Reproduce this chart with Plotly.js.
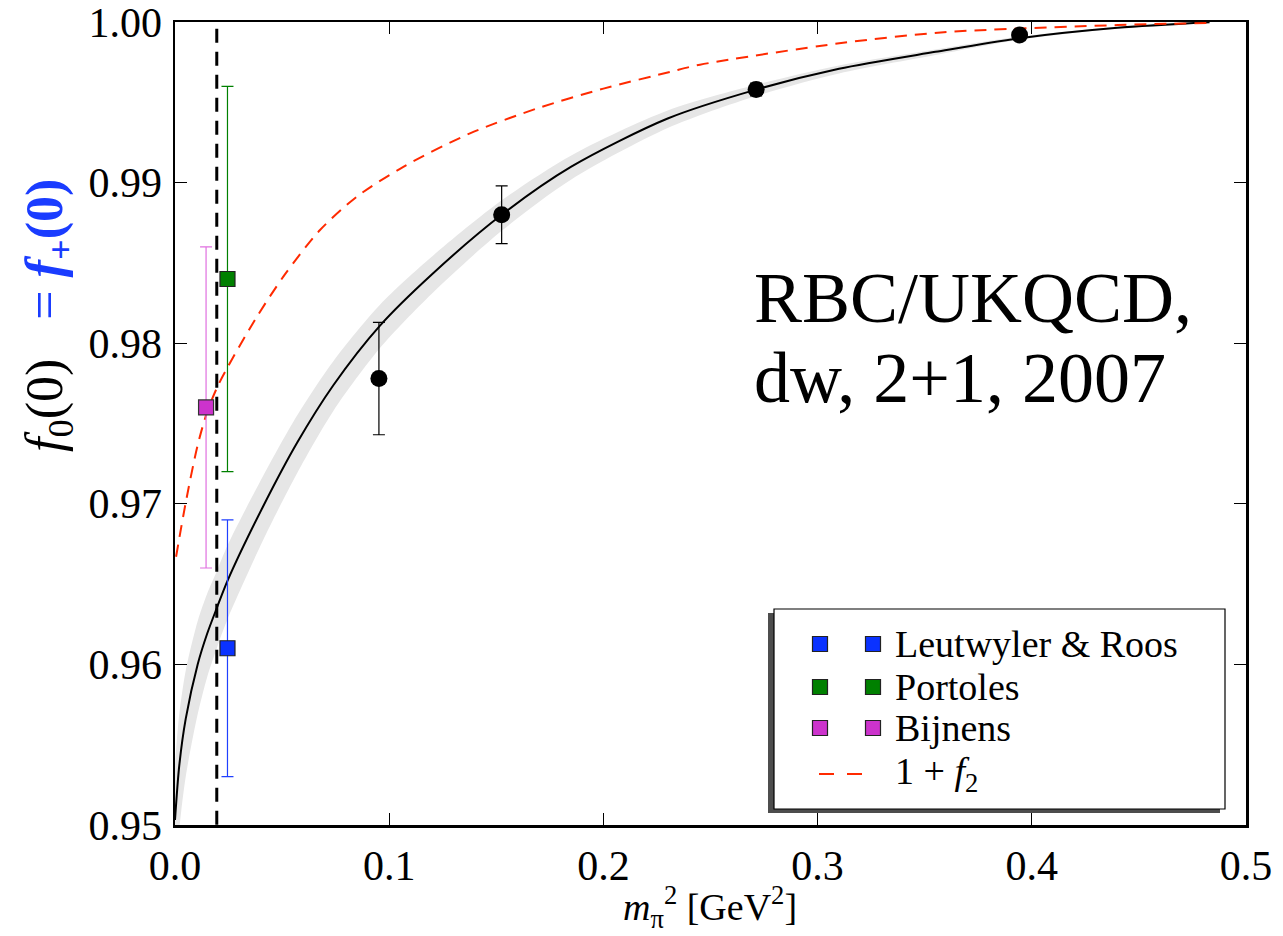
<!DOCTYPE html>
<html><head><meta charset="utf-8">
<script src="https://cdn.plot.ly/plotly-3.0.1.min.js"></script>
<style>html,body{margin:0;padding:0;background:#fff}#chart{width:1283px;height:936px}</style>
</head><body><div id="chart"></div>
<script>
// ---- lattice data points (RBC/UKQCD) ----
const latX   = [0.0952, 0.1525, 0.2713, 0.3943];
const latY   = [0.9778, 0.9880, 0.9958, 0.9992];
const latErr = [0.0035, 0.0018, 0.0004, 0.0002];

// ---- model estimates ----
const lrX = [0.0245], lrY = [0.961], lrErr = [0.008];   // Leutwyler & Roos
const poX = [0.0245], poY = [0.984], poErr = [0.012];   // Portoles
const biX = [0.0145], biY = [0.976], biErr = [0.010];   // Bijnens

// physical pion mass squared
const physX = 0.0195;

// ---- fit curve and error band ----
const fitX = [0.0, 0.002, 0.005, 0.0106, 0.015, 0.0195, 0.0245, 0.041, 0.057, 0.074, 0.0957, 0.120, 0.1525, 0.185, 0.230, 0.2713, 0.310, 0.355, 0.3943, 0.440, 0.483];
const fitY = [0.9503, 0.9537, 0.9566, 0.9600, 0.9619, 0.9635, 0.9652, 0.9698, 0.9738, 0.9774, 0.9811, 0.9843, 0.9880, 0.9910, 0.9940, 0.9958, 0.9971, 0.99815, 0.9990, 0.99965, 1.0000];
const bandUpper = [0.9538, 0.9569, 0.9596, 0.9627, 0.9644, 0.9658, 0.9674, 0.9717, 0.9755, 0.9789, 0.9824, 0.9854, 0.9889, 0.9917, 0.9945, 0.9961, 0.9973, 0.9983, 0.9991, 0.9997, 1.0000];
const bandLower = [0.9458, 0.9497, 0.9530, 0.9569, 0.9592, 0.9610, 0.9628, 0.9677, 0.9719, 0.9758, 0.9797, 0.9831, 0.9870, 0.9902, 0.9934, 0.9954, 0.9968, 0.99795, 0.9989, 0.9996, 1.0000];

// ---- 1 + f2 curve ----
const redX = [0.0005, 0.0049, 0.0104, 0.0148, 0.0202, 0.0373, 0.0514, 0.0677, 0.0848, 0.1066, 0.1377, 0.1689, 0.2000, 0.2311, 0.2451, 0.3101, 0.3589, 0.4401, 0.4832];
const redY = [0.9667, 0.9700, 0.97355, 0.97563, 0.9774, 0.98145, 0.9843, 0.98705, 0.98912, 0.99099, 0.99307, 0.99462, 0.99586, 0.9969, 0.99735, 0.99868, 0.99937, 0.99982, 0.99995];

// ---- axes ----
const xTicks = [0.0, 0.1, 0.2, 0.3, 0.4, 0.5];
const xTickText = ["0.0", "0.1", "0.2", "0.3", "0.4", "0.5"];
const yTicks = [0.95, 0.96, 0.97, 0.98, 0.99, 1.00];
const yTickText = ["0.95", "0.96", "0.97", "0.98", "0.99", "1.00"];
const yMin = 0.95, yMax = 1.00;

const legendNames = ["Leutwyler &amp; Roos", "Portoles", "Bijnens", "1 + <i>f</i><sub>2</sub>"];

const C_BLUE = '#0a32ff', C_GREEN = '#008000', C_MAG = '#cc33cc', C_RED = '#ff2a00';
const FONT = 'Liberation Serif, Times New Roman, serif';

// geometry helpers (pixel -> paper)
const L = 175, T = 22, W = 1071, H = 803;
const px = p => (p - L) / W;
const py = p => 1 - (p - T) / H;

const traces = [
  {x: fitX, y: bandLower, mode: 'lines', line: {width: 0, shape: 'spline', smoothing: 0.8}, hoverinfo: 'skip', showlegend: false},
  {x: fitX, y: bandUpper, mode: 'lines', line: {width: 0, shape: 'spline', smoothing: 0.8}, fill: 'tonexty', fillcolor: '#e6e6e6', hoverinfo: 'skip', showlegend: false},
  {x: fitX, y: fitY, mode: 'lines', line: {color: '#000', width: 2, shape: 'spline', smoothing: 0.8}, showlegend: false},
  {x: redX, y: redY, mode: 'lines', line: {color: C_RED, width: 2, dash: '12px,8px', shape: 'spline', smoothing: 0.8}, showlegend: false},
  {x: [physX, physX], y: [yMin, yMax], mode: 'lines', line: {color: '#000', width: 3, dash: '14px,9px'}, showlegend: false},
  {x: biX, y: biY, mode: 'markers', error_y: {type: 'data', array: biErr, color: '#e070e0', thickness: 1.2, width: 6},
   marker: {symbol: 'square', size: 15, color: C_MAG, line: {color: '#333', width: 1.2}}, showlegend: false},
  {x: lrX, y: lrY, mode: 'markers', error_y: {type: 'data', array: lrErr, color: '#2040ff', thickness: 1.2, width: 6},
   marker: {symbol: 'square', size: 15, color: C_BLUE, line: {color: '#222', width: 1.2}}, showlegend: false},
  {x: poX, y: poY, mode: 'markers', error_y: {type: 'data', array: poErr, color: C_GREEN, thickness: 1.2, width: 6},
   marker: {symbol: 'square', size: 15, color: C_GREEN, line: {color: '#222', width: 1.2}}, showlegend: false},
  {x: latX, y: latY, mode: 'markers', error_y: {type: 'data', array: latErr, color: '#000', thickness: 1.2, width: 6},
   marker: {symbol: 'circle', size: 17, color: '#000'}, showlegend: false}
];

// ---- custom legend with shadow ----
const shapes = [
  {type: 'rect', xref: 'paper', yref: 'paper', x0: px(768), x1: px(1220), y0: py(813), y1: py(613), fillcolor: '#4d4d4d', line: {width: 0}},
  {type: 'rect', xref: 'paper', yref: 'paper', x0: px(774), x1: px(1225), y0: py(809), y1: py(609), fillcolor: '#fff', line: {color: '#000', width: 1.2}}
];
const rowY = [644, 687, 728, 774];
const sqColors = [C_BLUE, C_GREEN, C_MAG];
const half = 7.5;
sqColors.forEach((c, i) => {
  [820, 873].forEach(cx => {
    shapes.push({type: 'rect', xref: 'paper', yref: 'paper', x0: px(cx - half), x1: px(cx + half),
      y0: py(rowY[i] + half), y1: py(rowY[i] - half), fillcolor: c, line: {color: '#222', width: 1.2}});
  });
});
[[819, 834], [847, 862]].forEach(s => {
  shapes.push({type: 'line', xref: 'paper', yref: 'paper', x0: px(s[0]), x1: px(s[1]), y0: py(rowY[3]), y1: py(rowY[3]), line: {color: C_RED, width: 2}});
});

const annotations = legendNames.map((t, i) => ({
  text: t, xref: 'paper', yref: 'paper', x: px(893), y: py(rowY[i]), xanchor: 'left', yanchor: 'middle',
  showarrow: false, font: {family: FONT, size: 38, color: '#000'}
}));
annotations.push(
  {text: 'RBC/UKQCD,', xref: 'paper', yref: 'paper', x: px(752), y: py(298), xanchor: 'left', yanchor: 'middle', showarrow: false, font: {family: FONT, size: 72, color: '#000'}},
  {text: 'dw, 2+1, 2007', xref: 'paper', yref: 'paper', x: px(752), y: py(378), xanchor: 'left', yanchor: 'middle', showarrow: false, font: {family: FONT, size: 72, color: '#000'}},
  {text: "<i>f</i><sub>0</sub>(0)&nbsp;&nbsp;&nbsp;<span style='color:#1a3cff'>= <b><i>f</i><sub>+</sub>(0)</b></span>",
   xref: 'paper', yref: 'paper', x: px(48), y: py(316), xanchor: 'center', yanchor: 'middle', textangle: -90, showarrow: false,
   font: {family: FONT, size: 52, color: '#000'}},
  {text: '<i>m</i><sub>π</sub><sup>2</sup> [GeV<sup>2</sup>]', xref: 'paper', yref: 'paper', x: px(710), y: py(907),
   xanchor: 'center', yanchor: 'middle', showarrow: false, borderpad: 0, font: {family: FONT, size: 38, color: '#000'}}
);

const axisCommon = {
  showgrid: false, zeroline: false, showline: true, linecolor: '#000', linewidth: 2.5, mirror: 'ticks',
  ticks: 'inside', ticklen: 12, tickwidth: 1, tickcolor: '#000', ticklabeloverflow: 'allow',
  tickfont: {family: FONT, size: 42, color: '#000'}
};

const layout = {
  width: 1283, height: 936,
  margin: {l: L, r: 1283 - L - W, t: T, b: 936 - T - H},
  paper_bgcolor: '#fff', plot_bgcolor: '#fff',
  font: {family: FONT, color: '#000'},
  xaxis: Object.assign({}, axisCommon, {range: [0, 0.5], tickvals: xTicks, ticktext: xTickText, ticklabelstandoff: 2}),
  yaxis: Object.assign({}, axisCommon, {range: [yMin - 0.00001, yMax + 0.00001], tickvals: yTicks, ticktext: yTickText, ticklabelstandoff: 2}),
  shapes: shapes,
  annotations: annotations,
  showlegend: false
};

Plotly.newPlot('chart', traces, layout, {staticPlot: true, displayModeBar: false});
</script>
</body></html>
